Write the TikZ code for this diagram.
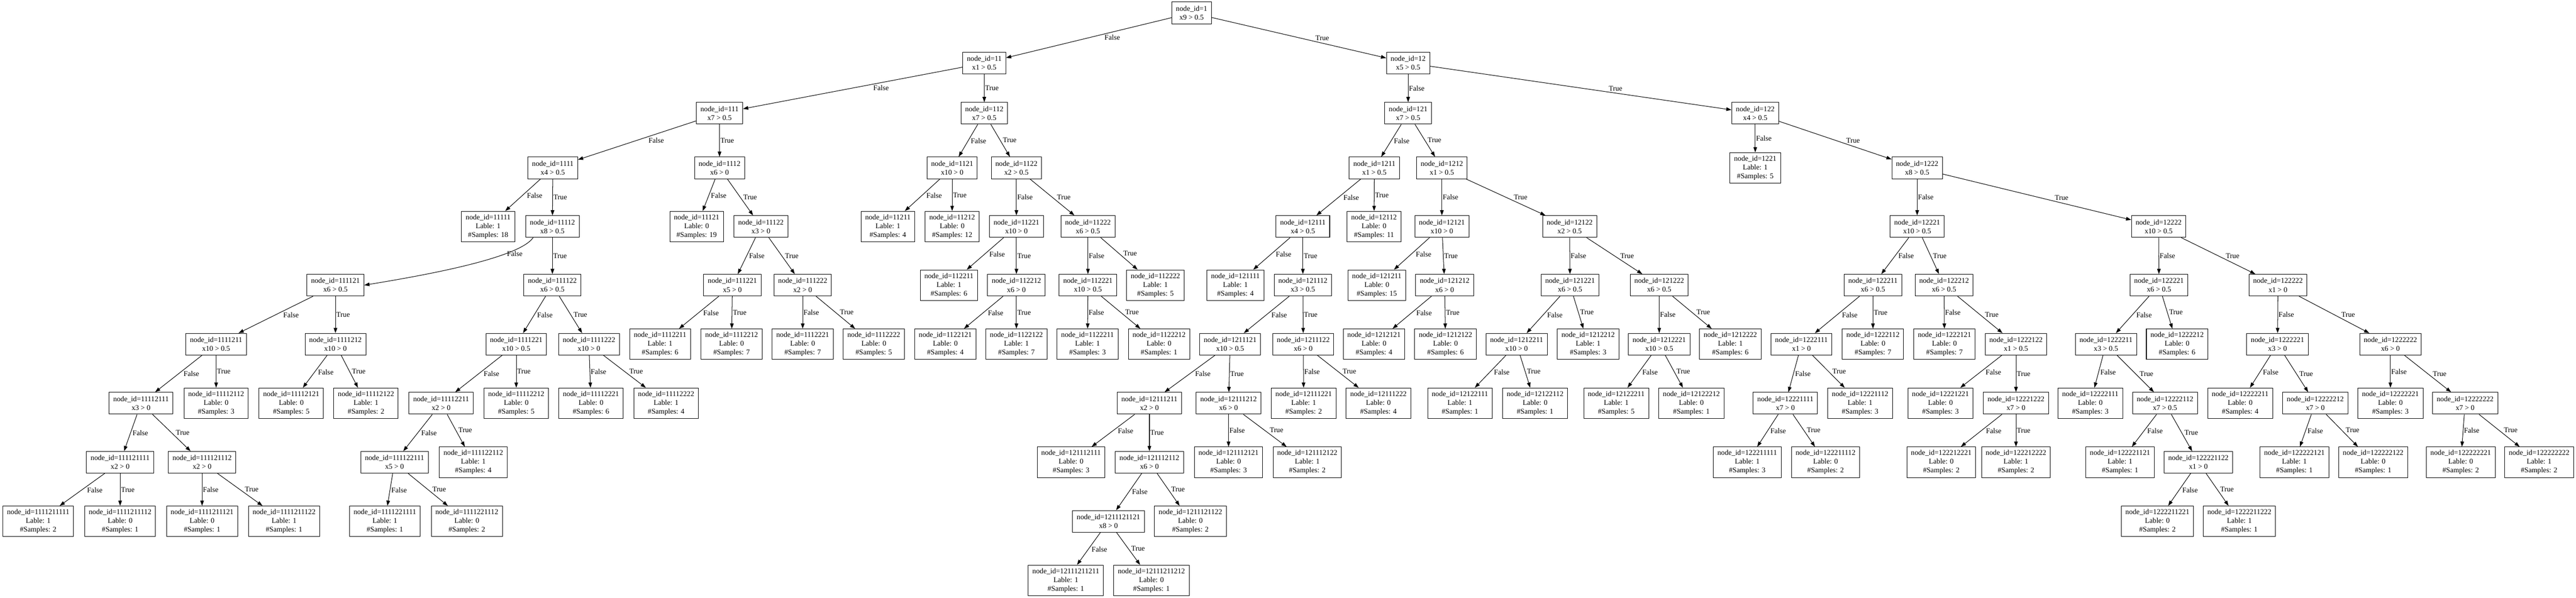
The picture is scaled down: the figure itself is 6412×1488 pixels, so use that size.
\documentclass[tikz,border=0pt]{standalone}
\usepackage{fontspec}
\setmainfont{Liberation Serif}
\usetikzlibrary{arrows.meta}
\tikzset{
  base/.style={draw, line width=1.3pt, rectangle, align=center, inner xsep=10.3pt, inner ysep=0pt, minimum width=70pt, font=\fontsize{18.2}{21.84}\selectfont},
  dec/.style={base, minimum height=54pt},
  leaf/.style={base, minimum height=76pt},
  edg/.style={line width=1.3pt, -{Triangle[length=13pt,width=9pt]}},
  lab/.style={font=\fontsize{18.2}{21.84}\selectfont, inner sep=1.5pt},
  lL/.style={lab, pos=0.41, anchor=north west},
  lR/.style={lab, pos=0.59, anchor=south west},
  lV/.style={lab, pos=0.5, anchor=west},
}
\newcommand\MyDec[4]{\node[dec] (n#1) at (#2,#3) {node\_id=#1\\#4};}
\newcommand\MyLeaf[5]{\node[leaf] (n#1) at (#2,#3) {node\_id=#1\\Lable: #4\\\#Samples: #5};}
\newcommand\MyEdge[4]{\draw[edg] (n#1) -- node[l#4]{#3} (n#2);}
\def\yA{-32}
\def\yB{-157}
\def\yC{-282}
\def\yD{-418}
\def\yE{-564}
\def\yF{-710}
\def\yG{-857}
\def\yH{-1004}
\def\yI{-1151}
\def\yJ{-1298}
\def\yK{-1445}
\begin{document}
\begin{tikzpicture}[x=1pt,y=1pt]
\fill[white] (0,0) rectangle (6412,-1488);
\useasboundingbox (0,0) rectangle (6412,-1488);
% L0
\MyDec{1}{2966}{\yA}{x9 > 0.5}
% L1
\MyDec{11}{2450}{\yB}{x1 > 0.5}
\MyDec{12}{3505}{\yB}{x5 > 0.5}
% L2
\MyDec{111}{1791}{\yC}{x7 > 0.5}
\MyDec{112}{2450}{\yC}{x7 > 0.5}
\MyDec{121}{3505}{\yC}{x7 > 0.5}
\MyDec{122}{4369}{\yC}{x4 > 0.5}
% L3
\MyDec{1111}{1376}{\yD}{x4 > 0.5}
\MyDec{1112}{1791}{\yD}{x6 > 0}
\MyDec{1121}{2370}{\yD}{x10 > 0}
\MyDec{1122}{2530}{\yD}{x2 > 0.5}
\MyDec{1211}{3421}{\yD}{x1 > 0.5}
\MyDec{1212}{3589}{\yD}{x1 > 0.5}
\MyLeaf{1221}{4369}{\yD}{1}{5}
\MyDec{1222}{4772}{\yD}{x8 > 0.5}
% L4
\MyLeaf{11111}{1215}{\yE}{1}{18}
\MyDec{11112}{1375}{\yE}{x8 > 0.5}
\MyLeaf{11121}{1734}{\yE}{0}{19}
\MyDec{11122}{1894}{\yE}{x3 > 0}
\MyLeaf{11211}{2210}{\yE}{1}{4}
\MyLeaf{11212}{2370}{\yE}{0}{12}
\MyDec{11221}{2530}{\yE}{x10 > 0}
\MyDec{11222}{2708}{\yE}{x6 > 0.5}
\MyDec{12111}{3243}{\yE}{x4 > 0.5}
\MyLeaf{12112}{3420}{\yE}{0}{11}
\MyDec{12121}{3589}{\yE}{x10 > 0}
\MyDec{12122}{3907}{\yE}{x2 > 0.5}
\MyDec{12221}{4772}{\yE}{x10 > 0.5}
\MyDec{12222}{5373}{\yE}{x10 > 0.5}
% L5
\MyDec{111121}{835}{\yF}{x6 > 0.5}
\MyDec{111122}{1375}{\yF}{x6 > 0.5}
\MyDec{111221}{1823}{\yF}{x5 > 0}
\MyDec{111222}{1998}{\yF}{x2 > 0}
\MyLeaf{112211}{2362}{\yF}{1}{6}
\MyDec{112212}{2530}{\yF}{x6 > 0}
\MyDec{112221}{2708}{\yF}{x10 > 0.5}
\MyLeaf{112222}{2876}{\yF}{1}{5}
\MyLeaf{121111}{3075}{\yF}{1}{4}
\MyDec{121112}{3243}{\yF}{x3 > 0.5}
\MyLeaf{121211}{3427}{\yF}{0}{15}
\MyDec{121212}{3596}{\yF}{x6 > 0}
\MyDec{121221}{3908}{\yF}{x6 > 0.5}
\MyDec{121222}{4130}{\yF}{x6 > 0.5}
\MyDec{122211}{4662}{\yF}{x6 > 0.5}
\MyDec{122212}{4839}{\yF}{x6 > 0.5}
\MyDec{122221}{5374}{\yF}{x6 > 0.5}
\MyDec{122222}{5670}{\yF}{x1 > 0}
% L6
\MyDec{1111211}{538}{\yG}{x10 > 0.5}
\MyDec{1111212}{835}{\yG}{x10 > 0}
\MyDec{1111221}{1285}{\yG}{x10 > 0.5}
\MyDec{1111222}{1466}{\yG}{x10 > 0}
\MyLeaf{1112211}{1643}{\yG}{1}{6}
\MyLeaf{1112212}{1821}{\yG}{0}{7}
\MyLeaf{1112221}{1998}{\yG}{0}{7}
\MyLeaf{1112222}{2175}{\yG}{0}{5}
\MyLeaf{1122121}{2353}{\yG}{0}{4}
\MyLeaf{1122122}{2530}{\yG}{1}{7}
\MyLeaf{1122211}{2707}{\yG}{1}{3}
\MyLeaf{1122212}{2885}{\yG}{0}{1}
\MyDec{1211121}{3062}{\yG}{x10 > 0.5}
\MyDec{1211122}{3244}{\yG}{x6 > 0}
\MyLeaf{1212121}{3420}{\yG}{0}{4}
\MyLeaf{1212122}{3598}{\yG}{0}{6}
\MyDec{1212211}{3775}{\yG}{x10 > 0}
\MyLeaf{1212212}{3953}{\yG}{1}{3}
\MyDec{1212221}{4130}{\yG}{x10 > 0.5}
\MyLeaf{1212222}{4307}{\yG}{1}{6}
\MyDec{1222111}{4484}{\yG}{x1 > 0}
\MyLeaf{1222112}{4662}{\yG}{0}{7}
\MyLeaf{1222121}{4840}{\yG}{0}{7}
\MyDec{1222122}{5018}{\yG}{x1 > 0.5}
\MyDec{1222211}{5242}{\yG}{x3 > 0.5}
\MyLeaf{1222212}{5419}{\yG}{0}{6}
\MyDec{1222221}{5669}{\yG}{x3 > 0}
\MyDec{1222222}{5950}{\yG}{x6 > 0}
% L7
\MyDec{11112111}{351}{\yH}{x3 > 0}
\MyLeaf{11112112}{538}{\yH}{0}{3}
\MyLeaf{11112121}{725}{\yH}{0}{5}
\MyLeaf{11112122}{911}{\yH}{1}{2}
\MyDec{11112211}{1098}{\yH}{x2 > 0}
\MyLeaf{11112212}{1285}{\yH}{0}{5}
\MyLeaf{11112221}{1471}{\yH}{0}{6}
\MyLeaf{11112222}{1658}{\yH}{1}{4}
\MyDec{12111211}{2861}{\yH}{x2 > 0}
\MyDec{12111212}{3058}{\yH}{x6 > 0}
\MyLeaf{12111221}{3245}{\yH}{1}{2}
\MyLeaf{12111222}{3431}{\yH}{0}{4}
\MyLeaf{12122111}{3634}{\yH}{1}{1}
\MyLeaf{12122112}{3821}{\yH}{0}{1}
\MyLeaf{12122211}{4023}{\yH}{1}{5}
\MyLeaf{12122212}{4210}{\yH}{0}{1}
\MyDec{12221111}{4444}{\yH}{x7 > 0}
\MyLeaf{12221112}{4630}{\yH}{1}{3}
\MyLeaf{12221221}{4830}{\yH}{0}{3}
\MyDec{12221222}{5018}{\yH}{x7 > 0}
\MyLeaf{12222111}{5203}{\yH}{0}{3}
\MyDec{12222112}{5389}{\yH}{x7 > 0.5}
\MyLeaf{12222211}{5576}{\yH}{0}{4}
\MyDec{12222212}{5763}{\yH}{x7 > 0}
\MyLeaf{12222221}{5950}{\yH}{0}{3}
\MyDec{12222222}{6136}{\yH}{x7 > 0}
% L8
\MyDec{111121111}{299}{\yI}{x2 > 0}
\MyDec{111121112}{503}{\yI}{x2 > 0}
\MyDec{111122111}{982}{\yI}{x5 > 0}
\MyLeaf{111122112}{1178}{\yI}{1}{4}
\MyLeaf{121112111}{2666}{\yI}{0}{3}
\MyDec{121112112}{2861}{\yI}{x6 > 0}
\MyLeaf{121112121}{3058}{\yI}{0}{3}
\MyLeaf{121112122}{3254}{\yI}{1}{2}
\MyLeaf{122211111}{4349}{\yI}{1}{3}
\MyLeaf{122211112}{4544}{\yI}{0}{2}
\MyLeaf{122212221}{4832}{\yI}{0}{2}
\MyLeaf{122212222}{5018}{\yI}{1}{2}
\MyLeaf{122221121}{5277}{\yI}{1}{1}
\MyDec{122221122}{5472}{\yI}{x1 > 0}
\MyLeaf{122222121}{5711}{\yI}{1}{1}
\MyLeaf{122222122}{5907}{\yI}{0}{1}
\MyLeaf{122222221}{6125}{\yI}{0}{2}
\MyLeaf{122222222}{6320}{\yI}{1}{2}
% L9
\MyLeaf{1111211111}{95}{\yJ}{1}{2}
\MyLeaf{1111211112}{299}{\yJ}{0}{1}
\MyLeaf{1111211121}{503}{\yJ}{0}{1}
\MyLeaf{1111211122}{707}{\yJ}{1}{1}
\MyLeaf{1111221111}{958}{\yJ}{1}{1}
\MyLeaf{1111221112}{1162}{\yJ}{0}{2}
\MyDec{1211121121}{2759}{\yJ}{x8 > 0}
\MyLeaf{1211121122}{2963}{\yJ}{0}{2}
\MyLeaf{1222211221}{5370}{\yJ}{0}{2}
\MyLeaf{1222211222}{5574}{\yJ}{1}{1}
% L10
\MyLeaf{12111211211}{2653}{\yK}{1}{1}
\MyLeaf{12111211212}{2866}{\yK}{0}{1}
% edges
\MyEdge{1}{11}{False}{L}
\MyEdge{1}{12}{True}{R}
\MyEdge{11}{111}{False}{L}
\MyEdge{11}{112}{True}{V}
\MyEdge{111}{1111}{False}{L}
\MyEdge{111}{1112}{True}{V}
\MyEdge{1111}{11111}{False}{L}
\MyEdge{1111}{11112}{True}{V}
\draw[edg] (n11112.-150) .. controls (1290,-645) and (1040,-688) .. (n111121.east) node[lab, pos=0.27, anchor=west, xshift=3pt]{False};
\MyEdge{11112}{111122}{True}{V}
\MyEdge{111121}{1111211}{False}{L}
\MyEdge{111121}{1111212}{True}{V}
\MyEdge{1111211}{11112111}{False}{L}
\MyEdge{1111211}{11112112}{True}{V}
\MyEdge{11112111}{111121111}{False}{L}
\MyEdge{11112111}{111121112}{True}{R}
\MyEdge{111121111}{1111211111}{False}{L}
\MyEdge{111121111}{1111211112}{True}{V}
\MyEdge{111121112}{1111211121}{False}{V}
\MyEdge{111121112}{1111211122}{True}{R}
\MyEdge{1111212}{11112121}{False}{L}
\MyEdge{1111212}{11112122}{True}{R}
\MyEdge{111122}{1111221}{False}{L}
\MyEdge{111122}{1111222}{True}{R}
\MyEdge{1111221}{11112211}{False}{L}
\MyEdge{1111221}{11112212}{True}{V}
\MyEdge{11112211}{111122111}{False}{L}
\MyEdge{11112211}{111122112}{True}{R}
\MyEdge{111122111}{1111221111}{False}{L}
\MyEdge{111122111}{1111221112}{True}{R}
\MyEdge{1111222}{11112221}{False}{V}
\MyEdge{1111222}{11112222}{True}{R}
\MyEdge{1112}{11121}{False}{L}
\MyEdge{1112}{11122}{True}{R}
\MyEdge{11122}{111221}{False}{L}
\MyEdge{11122}{111222}{True}{R}
\MyEdge{111221}{1112211}{False}{L}
\MyEdge{111221}{1112212}{True}{V}
\MyEdge{111222}{1112221}{False}{V}
\MyEdge{111222}{1112222}{True}{R}
\MyEdge{112}{1121}{False}{L}
\MyEdge{112}{1122}{True}{R}
\MyEdge{1121}{11211}{False}{L}
\MyEdge{1121}{11212}{True}{V}
\MyEdge{1122}{11221}{False}{V}
\MyEdge{1122}{11222}{True}{R}
\MyEdge{11221}{112211}{False}{L}
\MyEdge{11221}{112212}{True}{V}
\MyEdge{112212}{1122121}{False}{L}
\MyEdge{112212}{1122122}{True}{V}
\MyEdge{11222}{112221}{False}{V}
\MyEdge{11222}{112222}{True}{R}
\MyEdge{112221}{1122211}{False}{V}
\MyEdge{112221}{1122212}{True}{R}
\MyEdge{12}{121}{False}{V}
\MyEdge{12}{122}{True}{R}
\MyEdge{121}{1211}{False}{L}
\MyEdge{121}{1212}{True}{R}
\MyEdge{1211}{12111}{False}{L}
\MyEdge{1211}{12112}{True}{V}
\MyEdge{12111}{121111}{False}{L}
\MyEdge{12111}{121112}{True}{V}
\MyEdge{121112}{1211121}{False}{L}
\MyEdge{121112}{1211122}{True}{V}
\MyEdge{1211121}{12111211}{False}{L}
\MyEdge{1211121}{12111212}{True}{V}
\MyEdge{12111211}{121112111}{False}{L}
\MyEdge{12111211}{121112112}{True}{V}
\MyEdge{121112112}{1211121121}{False}{L}
\MyEdge{121112112}{1211121122}{True}{R}
\MyEdge{1211121121}{12111211211}{False}{L}
\MyEdge{1211121121}{12111211212}{True}{R}
\MyEdge{12111212}{121112121}{False}{V}
\MyEdge{12111212}{121112122}{True}{R}
\MyEdge{1211122}{12111221}{False}{V}
\MyEdge{1211122}{12111222}{True}{R}
\MyEdge{1212}{12121}{False}{V}
\MyEdge{1212}{12122}{True}{R}
\MyEdge{12121}{121211}{False}{L}
\MyEdge{12121}{121212}{True}{V}
\MyEdge{121212}{1212121}{False}{L}
\MyEdge{121212}{1212122}{True}{V}
\MyEdge{12122}{121221}{False}{V}
\MyEdge{12122}{121222}{True}{R}
\MyEdge{121221}{1212211}{False}{L}
\MyEdge{121221}{1212212}{True}{R}
\MyEdge{1212211}{12122111}{False}{L}
\MyEdge{1212211}{12122112}{True}{R}
\MyEdge{121222}{1212221}{False}{V}
\MyEdge{121222}{1212222}{True}{R}
\MyEdge{1212221}{12122211}{False}{L}
\MyEdge{1212221}{12122212}{True}{R}
\MyEdge{122}{1221}{False}{V}
\MyEdge{122}{1222}{True}{R}
\MyEdge{1222}{12221}{False}{V}
\MyEdge{1222}{12222}{True}{R}
\MyEdge{12221}{122211}{False}{L}
\MyEdge{12221}{122212}{True}{R}
\MyEdge{122211}{1222111}{False}{L}
\MyEdge{122211}{1222112}{True}{V}
\MyEdge{1222111}{12221111}{False}{L}
\MyEdge{1222111}{12221112}{True}{R}
\MyEdge{12221111}{122211111}{False}{L}
\MyEdge{12221111}{122211112}{True}{R}
\MyEdge{122212}{1222121}{False}{V}
\MyEdge{122212}{1222122}{True}{R}
\MyEdge{1222122}{12221221}{False}{L}
\MyEdge{1222122}{12221222}{True}{V}
\MyEdge{12221222}{122212221}{False}{L}
\MyEdge{12221222}{122212222}{True}{V}
\MyEdge{12222}{122221}{False}{V}
\MyEdge{12222}{122222}{True}{R}
\MyEdge{122221}{1222211}{False}{L}
\MyEdge{122221}{1222212}{True}{R}
\MyEdge{1222211}{12222111}{False}{L}
\MyEdge{1222211}{12222112}{True}{R}
\MyEdge{12222112}{122221121}{False}{L}
\MyEdge{12222112}{122221122}{True}{R}
\MyEdge{122221122}{1222211221}{False}{L}
\MyEdge{122221122}{1222211222}{True}{R}
\MyEdge{122222}{1222221}{False}{V}
\MyEdge{122222}{1222222}{True}{R}
\MyEdge{1222221}{12222211}{False}{L}
\MyEdge{1222221}{12222212}{True}{R}
\MyEdge{12222212}{122222121}{False}{L}
\MyEdge{12222212}{122222122}{True}{R}
\MyEdge{1222222}{12222221}{False}{V}
\MyEdge{1222222}{12222222}{True}{R}
\MyEdge{12222222}{122222221}{False}{V}
\MyEdge{12222222}{122222222}{True}{R}
\end{tikzpicture}
\end{document}
